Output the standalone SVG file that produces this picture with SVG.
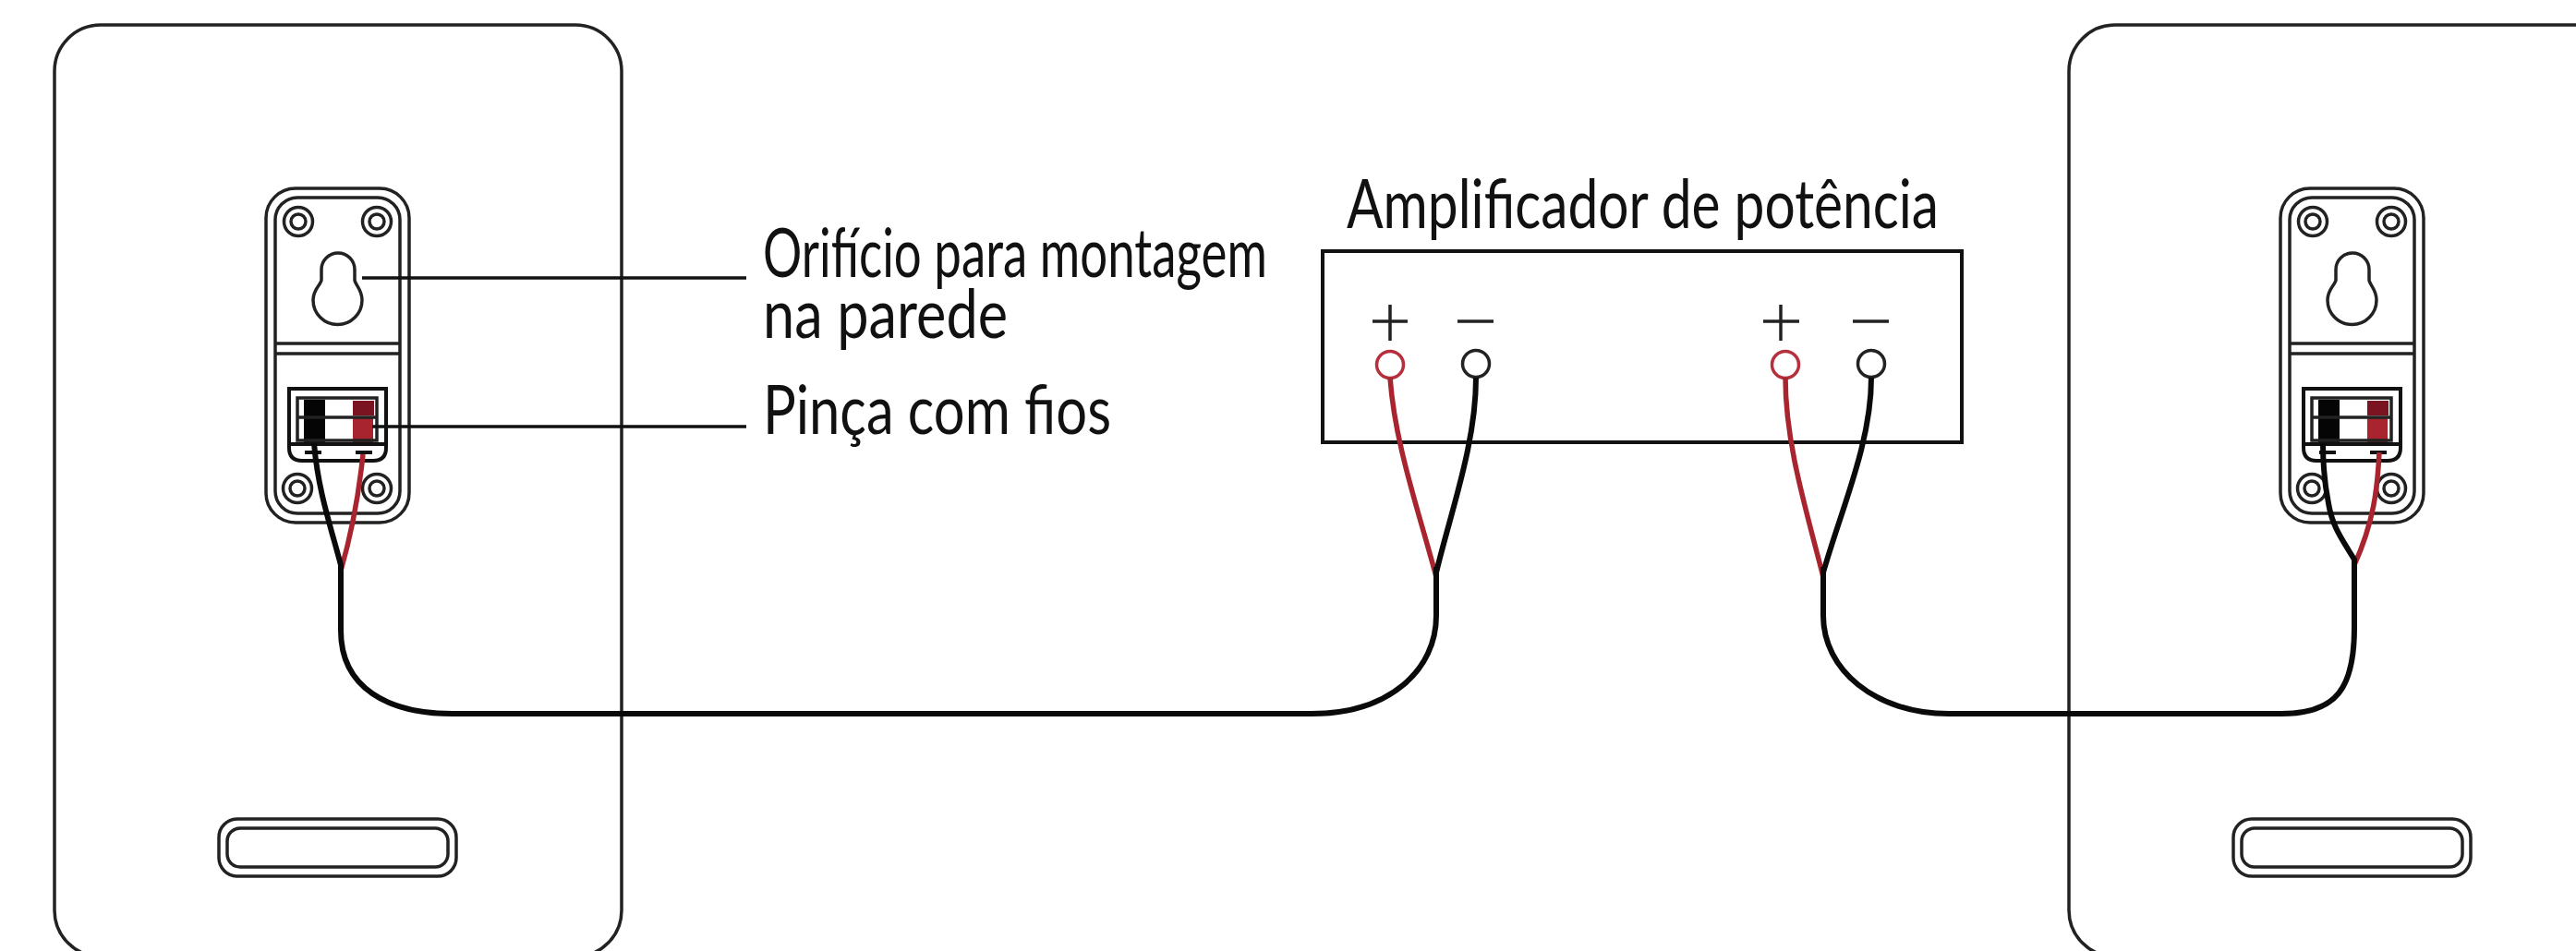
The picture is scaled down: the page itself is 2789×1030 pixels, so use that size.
<svg xmlns="http://www.w3.org/2000/svg" xmlns:xlink="http://www.w3.org/1999/xlink" width="2789" height="1030" viewBox="0 0 2789 1030">
<style>
.o{fill:none;stroke:#222;stroke-width:3.500}
.t{fill:none;stroke:#111;stroke-width:4}
.b{fill:none;stroke:#0a0a0a;stroke-width:6}
.r{fill:none;stroke:#a8242f;stroke-width:5.500}
.lbl{font-family:"Lato","Noto Sans",sans-serif;font-size:73px;fill:#111;font-weight:400}
.sym{fill:none;stroke:#222;stroke-width:3.500}
</style>
<defs>
<g id="speaker">
<rect class="o" x="59" y="27" width="614" height="1009" rx="50"/>
<rect class="o" x="237" y="887" width="257" height="62" rx="20"/>
<rect class="o" x="246" y="897" width="239" height="42" rx="14"/>
<rect class="o" x="288" y="204" width="155" height="362" rx="32"/>
<rect class="o" x="298" y="214" width="135" height="342" rx="24"/>
<path class="o" d="M298 372H433M298 383H433"/>
<g class="o"><circle cx="323" cy="240" r="15.500"/><circle cx="323" cy="240" r="8"/><circle cx="408" cy="240" r="15.500"/><circle cx="408" cy="240" r="8"/><circle cx="322" cy="529" r="15.500"/><circle cx="322" cy="529" r="8"/><circle cx="408" cy="529" r="15.500"/><circle cx="408" cy="529" r="8"/></g>
<path class="o" d="M348 292A18 18 0 0 1 384 292V303C384 308 392 313 392 325A26.500 26.500 0 0 1 339 325C339 313 348 308 348 303Z"/>
<rect x="329" y="433" width="23" height="46" fill="#050505"/>
<rect x="382" y="434" width="23" height="16" fill="#7a1420"/>
<rect x="382" y="453" width="22" height="28" fill="#a8242f"/>
<rect class="t" x="313" y="421" width="105" height="60"/>
<rect class="o" x="322" y="431" width="86" height="46"/>
<path class="o" d="M322 452H408"/>
<path class="t" d="M313 481V485Q313 499 327 499H404Q418 499 418 485V481"/>
<path d="M330 490H348M385 490H403" stroke="#111" stroke-width="4" fill="none"/>
</g>
</defs>
<rect width="2789" height="1030" fill="#fff"/>
<g id="speaker-left"><use xlink:href="#speaker" href="#speaker"/></g>
<g id="speaker-right"><use xlink:href="#speaker" href="#speaker" x="2181"/></g>
<g id="amplifier">
<rect class="t" x="1432" y="272" width="692" height="207"/>
<text class="lbl" x="1458" y="247" textLength="641" lengthAdjust="spacingAndGlyphs">Amplificador de potência</text>
<path class="sym" d="M1486 348H1524M1505 330V369M1578 348H1617M1909 348H1948M1928 330V369M2006 348H2045"/>
<circle cx="1505" cy="395" r="14.500" fill="#fff" stroke="#b5303c" stroke-width="3.500"/>
<circle cx="1598" cy="394" r="14.500" fill="#fff" stroke="#222" stroke-width="3.500"/>
<circle cx="1933" cy="395" r="14.500" fill="#fff" stroke="#b5303c" stroke-width="3.500"/>
<circle cx="2026" cy="394" r="14.500" fill="#fff" stroke="#222" stroke-width="3.500"/>
</g>
<g id="labels">
<text class="lbl" x="826" y="300" textLength="546" lengthAdjust="spacingAndGlyphs">Orifício para montagem</text>
<text class="lbl" x="826" y="366" textLength="265" lengthAdjust="spacingAndGlyphs">na parede</text>
<text class="lbl" x="826" y="470" textLength="377" lengthAdjust="spacingAndGlyphs">Pinça com fios</text>
</g>
<g id="connectors">
<path d="M392 301H808M403 462H808" stroke="#111" stroke-width="3.500" fill="none"/>
<path class="r" d="M393 492C388 540 380 580 369 618"/>
<path class="r" d="M1505 409C1510 480 1535 550 1555 625"/>
<path class="r" d="M1933 409C1933 480 1955 550 1974 625"/>
<path class="r" d="M2576 490C2574 530 2570 565 2549 612"/>
<path class="b" d="M340 480C344 530 358 570 369 612V683C369 745 420 773 490 773H1420C1505 773 1555 725 1555 667V614"/>
<path class="b" d="M1598 409C1598 480 1572 550 1555 620"/>
<path class="b" d="M2026 409C2026 480 1994 550 1974 620"/>
<path class="b" d="M1974 614V667C1974 725 2030 773 2110 773H2470C2530 773 2549 745 2549 680V606C2535 583 2525 570 2521 545C2517 525 2515 500 2515 480"/>
</g>
</svg>
